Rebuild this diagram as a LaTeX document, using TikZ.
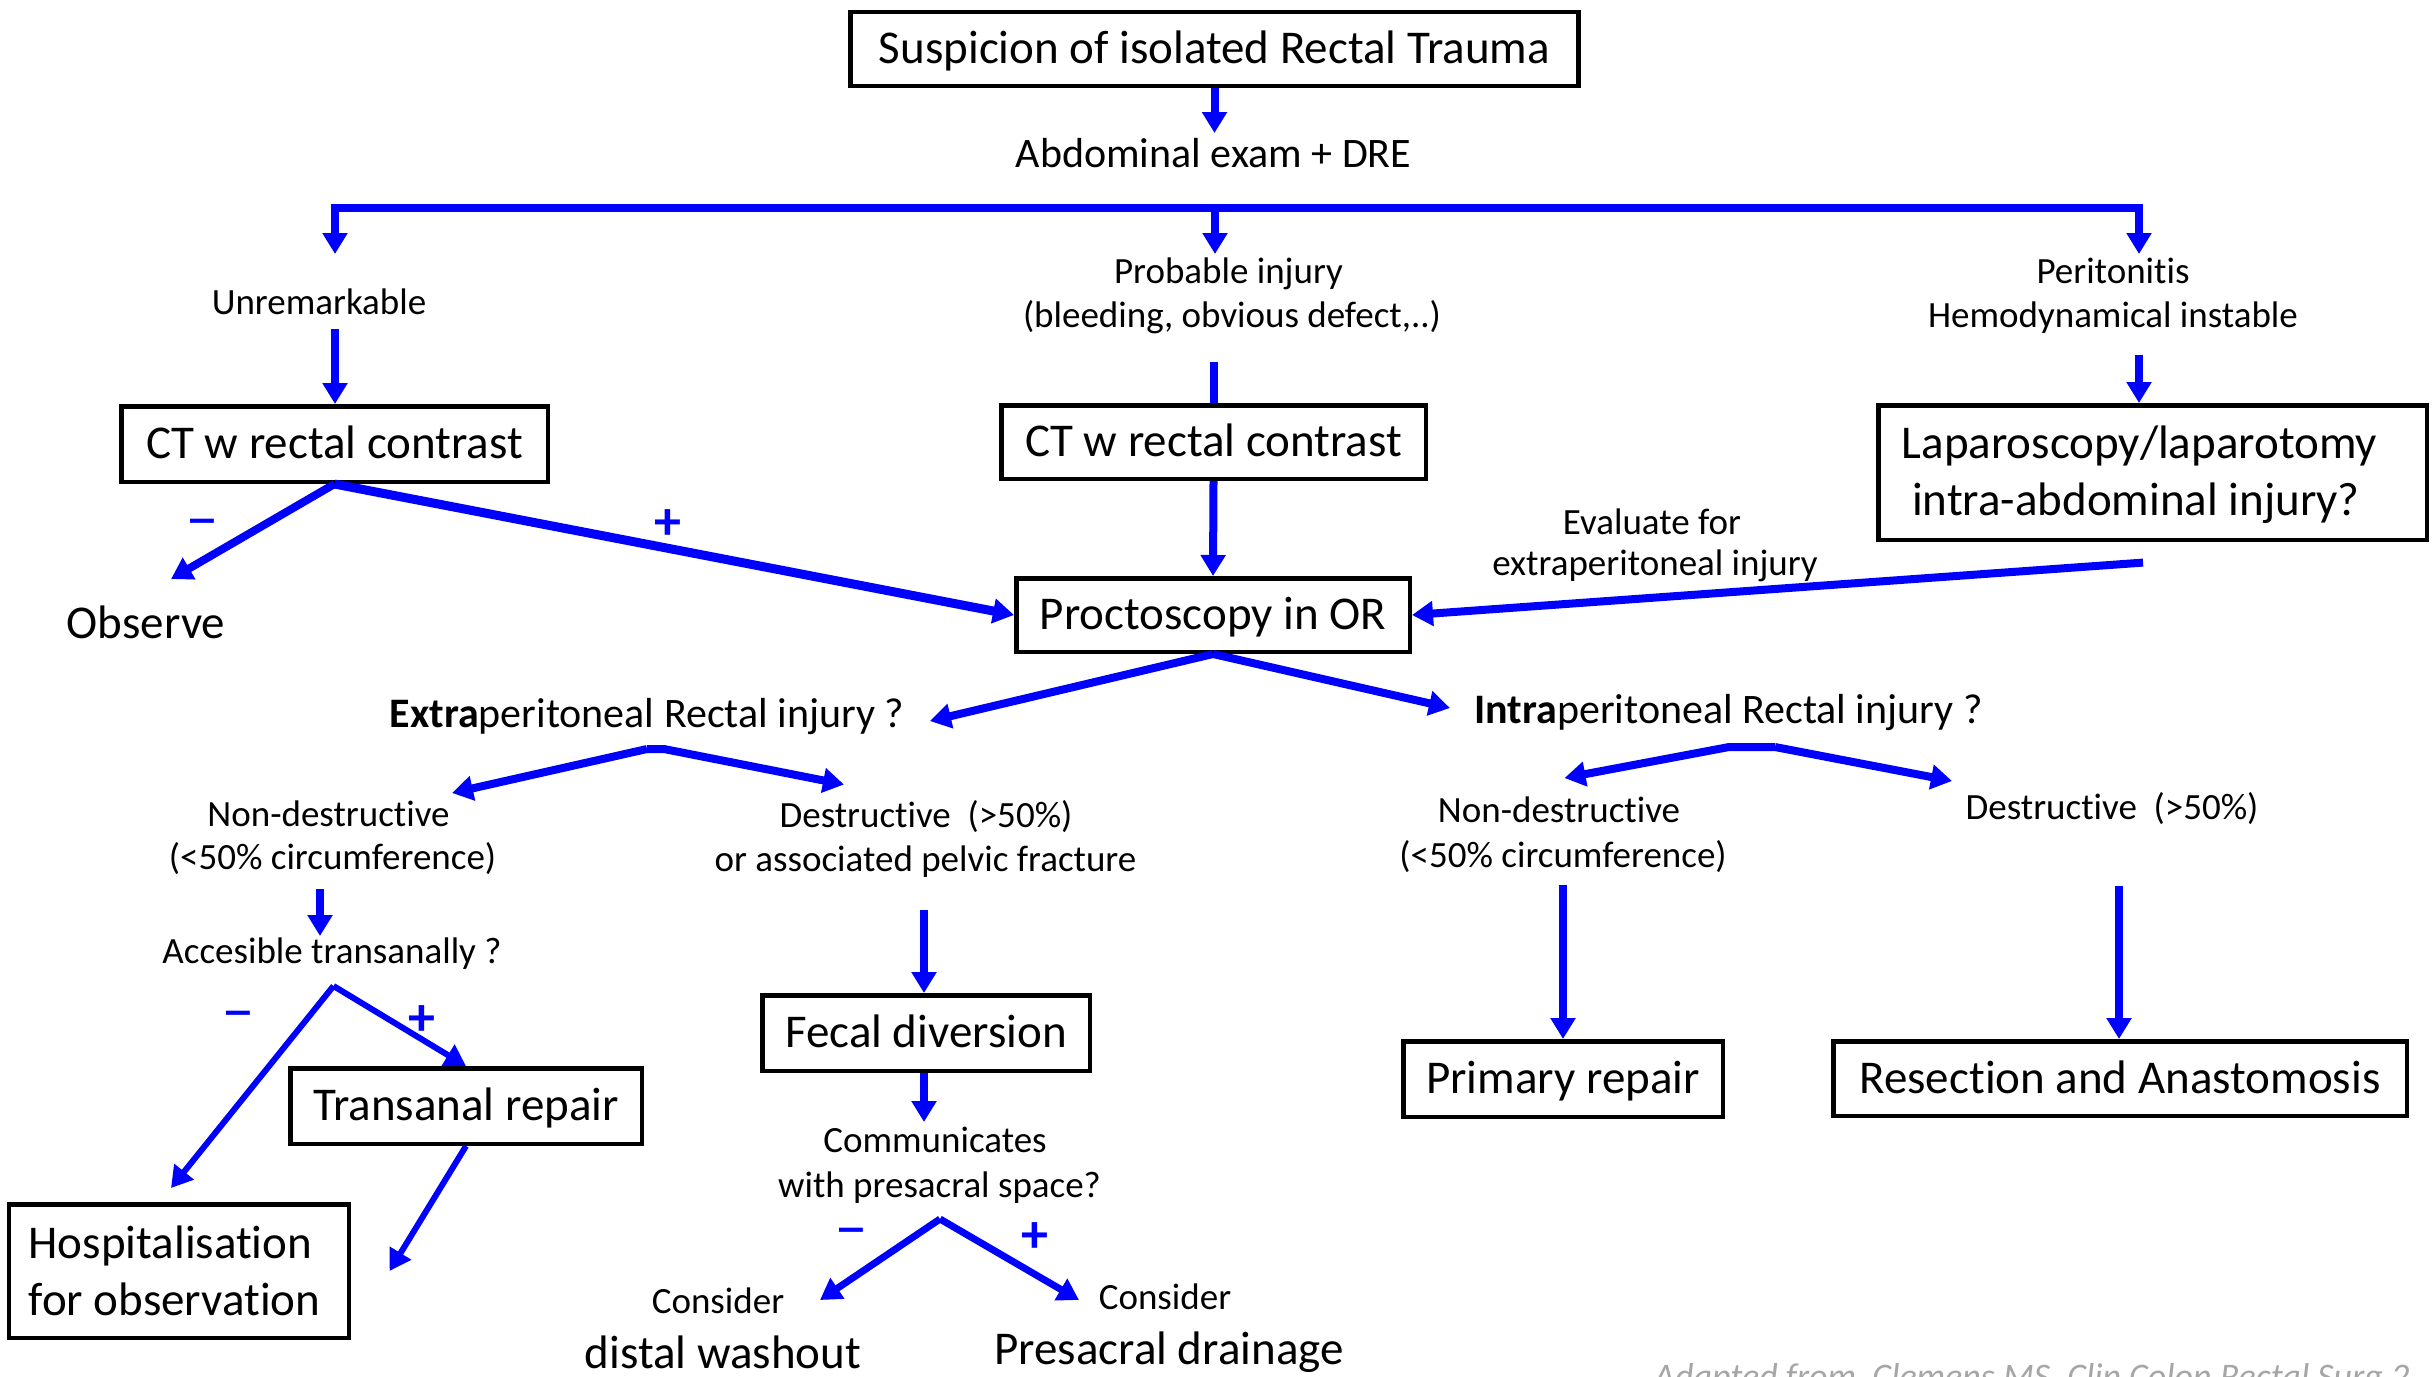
\documentclass[tikz,border=0pt]{standalone}
\usepackage{fontspec}
\setmainfont{Carlito}[Ligatures=NoCommon]
\usetikzlibrary{arrows.meta}
\begin{document}
\begin{tikzpicture}[x=1pt,y=-1pt,
  box/.style={draw=black, line width=4.5pt, inner sep=0pt, text height=29.7pt, text depth=0pt, font=\fontsize{47}{56}\selectfont},
  frame/.style={draw=black, line width=4.5pt, inner sep=0pt},
  lbl/.style={anchor=base, inner sep=0pt, font=\fontsize{37}{44}\selectfont},
  big/.style={anchor=base, inner sep=0pt, font=\fontsize{47}{56}\selectfont},
  mid/.style={anchor=base, inner sep=0pt, font=\fontsize{42}{50}\selectfont},
  arr/.style={draw=blue, line width=8pt, -{Triangle[length=21pt,width=24pt]}},
  ln/.style={draw=blue, line width=8pt},
  minus/.style={text=blue, anchor=center, inner sep=0pt, yshift=-9pt, font=\fontsize{64}{66}\selectfont},
  plus/.style={text=blue, anchor=center, inner sep=0pt, yshift=-4pt, font=\fontsize{54}{60}\selectfont\bfseries},
]
\useasboundingbox (0,0) rectangle (2432,1376);

% ---------- top ----------
\node[box, minimum width=728pt, minimum height=74pt] (susp) at (1214.5,49) {Suspicion of isolated Rectal Trauma};
\node[mid] (abd) at (1213.5,167) {Abdominal exam + DRE};
\coordinate (abdIn) at (1214.5,133);
\draw[arr] (susp.south) -- (abdIn);

\coordinate (barL) at (335,207.5);
\coordinate (barM) at (1215,207.5);
\coordinate (barR) at (2139,207.5);
\coordinate (unrIn) at (335,254);
\coordinate (probIn) at (1215,254);
\coordinate (perIn) at (2139,254);
\draw[draw=blue, line width=8pt, {Triangle[length=21pt,width=24pt]}-{Triangle[length=21pt,width=24pt]}] (unrIn) -- (barL) -- (barR) -- (perIn);
\draw[arr] (barM) -- (probIn);

\node[lbl] (unr) at (319,314) {Unremarkable};
\node[lbl] (prob1) at (1228.5,283) {Probable injury};
\node[lbl] (prob2) at (1232,327) {(bleeding, obvious defect,..)};
\node[lbl] (per1) at (2113,283) {Peritonitis};
\node[lbl] (per2) at (2113,327) {Hemodynamical instable};

% ---------- second row boxes ----------
\node[box, minimum width=426.5pt, minimum height=75.5pt] (ctl) at (334.5,444) {CT w rectal contrast};
\node[box, minimum width=424.5pt, minimum height=73.5pt] (ctm) at (1213.5,442) {CT w rectal contrast};
\node[frame, minimum width=548.5pt, minimum height=134.5pt] (lap) at (2152.5,472.5) {};
\node[big] (lap1) at (2139.5,458.6) {Laparoscopy/laparotomy};
\node[big] (lap2) at (2136,515.6) {intra-abdominal injury?};

\coordinate (unrOut) at (335,329);
\draw[arr] (unrOut) -- (unrOut |- ctl.north);
\coordinate (probOut) at (1213.5,362);
\draw[ln] (probOut) -- (ctm.north);
\coordinate (perOut) at (2139,354.5);
\draw[arr] (perOut) -- (perOut |- lap.north);

% ---------- proctoscopy ----------
\node[box, minimum width=393.5pt, minimum height=73.5pt] (proc) at (1213,615) {Proctoscopy in OR};
\node[big] (obs) at (146,638) {Observe};
\coordinate (obsIn) at (171,579);
\draw[arr] (ctl.south) -- (obsIn);
\draw[arr, line width=9pt] (ctl.south) -- (proc.west);
\draw[arr] (ctm.south) -- (proc.north);
\coordinate (lapOut) at (2143,562.6);
\draw[arr] (lapOut) -- (proc.east);
\node[lbl] (ev1) at (1652,534.6) {Evaluate for};
\node[lbl] (ev2) at (1655,575.5) {extraperitoneal injury};

\node[minus] (m1) at (202,521) {−};
\node[plus] (p1) at (668,521) {+};

% ---------- extra / intra ----------
\node[mid] (extra) at (647,727.5) {\textbf{Extra}peritoneal Rectal injury ?};
\node[mid] (intra) at (1728.5,723) {\textbf{Intra}peritoneal Rectal injury ?};
\coordinate (extraIn) at (930,721);
\coordinate (intraIn) at (1450,708);
\draw[arr] (proc.south) -- (extraIn);
\draw[arr] (proc.south) -- (intraIn);

\coordinate (exA) at (647,749);
\coordinate (exB) at (664,749);
\coordinate (exL) at (452,793);
\coordinate (exR) at (844,784.5);
\draw[arr] (exA) -- (exL);
\draw[arr] (exA) -- (exB) -- (exR);

\coordinate (inA) at (1729,747);
\coordinate (inB) at (1775,747);
\coordinate (inL) at (1564.5,778);
\coordinate (inR) at (1952,781);
\draw[arr] (inB) -- (inA) -- (inL);
\draw[arr] (inB) -- (inR);

\node[lbl] (nd1a) at (328.5,826) {Non-destructive};
\node[lbl] (nd1b) at (332.5,869) {(<50\% circumference)};
\node[lbl] (d1a) at (926,827.5) {Destructive\ \ (>50\%)};
\node[lbl] (d1b) at (925.5,871) {or associated pelvic fracture};
\node[lbl] (nd2a) at (1559,822) {Non-destructive};
\node[lbl] (nd2b) at (1563,867) {(<50\% circumference)};
\node[lbl] (d2a) at (2112,819) {Destructive\ \ (>50\%)};

% ---------- extraperitoneal, non-destructive ----------
\coordinate (nd1Out) at (320,889);
\coordinate (accIn) at (320,936);
\draw[arr] (nd1Out) -- (accIn);
\node[lbl] (acc) at (332,963.6) {Accesible transanally ?};
\coordinate (accA) at (333.5,986);
\node[box, minimum width=351.5pt, minimum height=75.5pt] (trans) at (466,1106) {Transanal repair};
\node[frame, minimum width=340pt, minimum height=133.5pt] (hosp) at (179,1271) {};
\node[big, anchor=base west] (hosp1) at (28.5,1258.5) {Hospitalisation};
\node[big, anchor=base west] (hosp2) at (28.5,1315.5) {for observation};
\coordinate (hospIn) at (171,1188);
\draw[arr, line width=6pt] (accA) -- (hospIn);
\draw[arr, line width=6pt] (accA) -- (trans.north);
\coordinate (transEnd) at (389.6,1271);
\draw[arr, line width=6pt] (trans.south) -- (transEnd);
\node[minus] (m2) at (238.5,1013) {−};
\node[plus] (p2) at (422,1017) {+};

% ---------- extraperitoneal, destructive ----------
\coordinate (d1Out) at (924,909.6);
\node[box, minimum width=327.5pt, minimum height=75.5pt] (fecal) at (926,1033) {Fecal diversion};
\draw[arr] (d1Out) -- (d1Out |- fecal.north);
\coordinate (comIn) at (924,1122);
\draw[arr] (fecal.south -| comIn) -- (comIn);
\node[lbl] (com1) at (935,1152) {Communicates};
\node[lbl] (com2) at (939.5,1197) {with presacral space?};
\coordinate (comA) at (940,1219);
\coordinate (wIn) at (820,1300);
\coordinate (dIn) at (1079,1300);
\draw[arr, line width=7pt] (comA) -- (wIn);
\draw[arr, line width=7pt] (comA) -- (dIn);
\node[minus] (m3) at (851,1230) {−};
\node[plus] (p3) at (1035,1234) {+};
\node[lbl] (cons1) at (718,1313) {Consider};
\node[big] (wash) at (723,1368) {distal washout};
\node[lbl] (cons2) at (1165,1309) {Consider};
\node[big] (drain) at (1169,1364) {Presacral drainage};

% ---------- intraperitoneal ----------
\node[box, minimum width=319.5pt, minimum height=75.5pt] (prim) at (1563,1079) {Primary repair};
\node[box, minimum width=573.5pt, minimum height=74.5pt] (res) at (2120,1078.5) {Resection and Anastomosis};
\coordinate (nd2Out) at (1563,884.6);
\draw[arr] (nd2Out) -- (prim.north);
\coordinate (d2Out) at (2119,885.5);
\draw[arr] (d2Out) -- (d2Out |- res.north);

% ---------- source ----------
\node[anchor=base west, inner sep=0pt, text=gray!70, font=\fontsize{36}{43}\selectfont\itshape] (src) at (1654,1388) {Adapted from\ \ Clemens MS, Clin Colon Rectal Surg 2};
\end{tikzpicture}
\end{document}
